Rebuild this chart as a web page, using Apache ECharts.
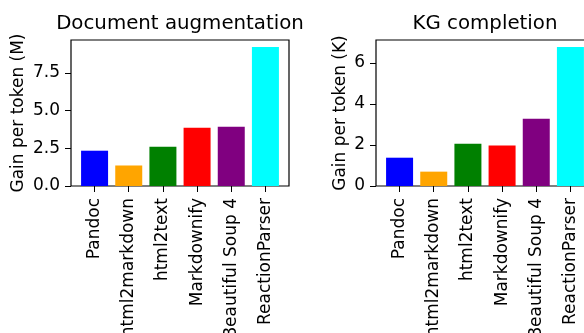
<!DOCTYPE html>
<html>
<head>
<meta charset="utf-8">
<script src="https://cdn.jsdelivr.net/npm/echarts@6/dist/echarts.min.js"></script>
<style>html,body{margin:0;padding:0;background:#fff}#c{width:584px;height:333px}</style>
</head>
<body>
<div id="c"></div>
<script>
var categories = ['Pandoc', 'html2markdown', 'html2text', 'Markdownify', 'Beautiful Soup 4', 'ReactionParser'];
var docAugmentation = [2.34, 1.36, 2.60, 3.87, 3.93, 9.22];
var kgCompletion = [1.38, 0.70, 2.06, 1.97, 3.28, 6.78];
var barColors = ['#0000ff', '#ffa500', '#008000', '#ff0000', '#800080', '#00ffff'];
var leftTickMax = 7.5, leftTickStep = 2.5, leftMax = 9.68;
var rightTickMax = 6, rightTickStep = 2, rightMax = 7.12;
var titles = ['Document augmentation', 'KG completion'];
var yNames = ['Gain per token (M)', 'Gain per token (K)'];

var FONT = 'DejaVu Sans';
var catIdx = categories.map(function (_, i) { return i; });
var GT = 40, GH = 146;

function seriesData(vals) {
  return vals.map(function (v, i) {
    return { value: [i, v], itemStyle: { color: barColors[i] } };
  });
}
function xAxis(gi) {
  return {
    type: 'value', gridIndex: gi, min: -0.69, max: 5.69,
    splitLine: { show: false }, axisLine: { show: false },
    axisTick: { show: true, customValues: catIdx, length: 6, lineStyle: { color: '#000', width: 1 } },
    axisLabel: {
      customValues: catIdx, rotate: 90, margin: 12, fontSize: 17, fontFamily: FONT, color: '#000',
      formatter: function (v) { return categories[Math.round(v)]; }
    }
  };
}
function hiddenX(gi) {
  return { type: 'value', gridIndex: gi, show: false, min: 0, max: 1 };
}
function dataY(gi, max, name, gap) {
  return {
    type: 'value', gridIndex: gi, min: 0, max: max,
    name: name, nameLocation: 'middle', nameRotate: 90, nameGap: gap,
    nameTextStyle: { fontSize: 17, fontFamily: FONT, color: '#000' },
    splitLine: { show: false }, axisLine: { show: false },
    axisTick: { show: false }, axisLabel: { show: false }
  };
}
function tickY(gi, max, step, dec) {
  return {
    type: 'value', gridIndex: gi, min: 0, max: max, interval: step,
    splitLine: { show: false }, axisLine: { show: false },
    axisTick: { show: true, length: 6, lineStyle: { color: '#000', width: 1 } },
    axisLabel: {
      margin: 11, fontSize: 17, fontFamily: FONT, color: '#000',
      formatter: function (v) { return dec ? v.toFixed(1) : String(v); }
    }
  };
}
function tickGrid(left, tickMax, max) {
  var h = GH * tickMax / max;
  return { left: left, top: GT + GH - h, width: 10, height: h, show: false, outerBoundsMode: 'none', containLabel: false };
}

var chart = echarts.init(document.getElementById('c'), null, { renderer: 'canvas' });
chart.setOption({
  animation: false,
  backgroundColor: '#fff',
  title: [
    { text: titles[0], left: 175, top: 9, textAlign: 'center', textStyle: { fontSize: 19.8, fontWeight: 'normal', fontFamily: FONT, color: '#000' } },
    { text: titles[1], left: 480, top: 9, textAlign: 'center', textStyle: { fontSize: 19.8, fontWeight: 'normal', fontFamily: FONT, color: '#000' } }
  ],
  grid: [
    { left: 71, top: GT, width: 218, height: GH, show: true, borderColor: '#000', borderWidth: 1.2, backgroundColor: 'transparent', outerBoundsMode: 'none', containLabel: false },
    { left: 376, top: GT, width: 218, height: GH, show: true, borderColor: '#000', borderWidth: 1.2, backgroundColor: 'transparent', outerBoundsMode: 'none', containLabel: false },
    tickGrid(71, leftTickMax, leftMax),
    tickGrid(376, rightTickMax, rightMax)
  ],
  xAxis: [xAxis(0), xAxis(1), hiddenX(2), hiddenX(3)],
  yAxis: [
    dataY(0, leftMax, yNames[0], 44),
    dataY(1, rightMax, yNames[1], 27),
    tickY(2, leftTickMax, leftTickStep, true),
    tickY(3, rightTickMax, rightTickStep, false)
  ],
  series: [
    { type: 'bar', xAxisIndex: 0, yAxisIndex: 0, barWidth: 27, data: seriesData(docAugmentation) },
    { type: 'bar', xAxisIndex: 1, yAxisIndex: 1, barWidth: 27, data: seriesData(kgCompletion) }
  ]
});
</script>
</body>
</html>
